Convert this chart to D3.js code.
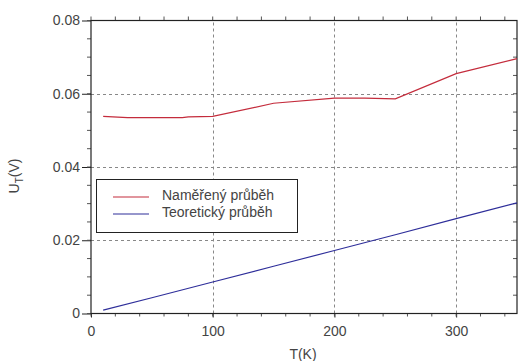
<!DOCTYPE html>
<html>
<head>
<meta charset="utf-8">
<script src="https://cdn.jsdelivr.net/npm/d3@7"></script>
<style>
  body { margin: 0; background: #fff; }
  text { font-family: "Liberation Sans", Arial, sans-serif; fill: #444; }
</style>
</head>
<body>
<svg id="chart" width="520" height="361"></svg>
<script>
// measured curve
const measT = [10, 30, 75, 80, 100, 150, 200, 225, 250, 300, 350];
const measU = [0.0538, 0.0535, 0.0535, 0.0537, 0.0538, 0.0574, 0.0588, 0.0588, 0.0586, 0.0655, 0.0696];
// theoretical curve
const theoT = [10, 50, 100, 150, 200, 250, 300, 350];
const theoU = [0.0009, 0.0043, 0.0086, 0.0129, 0.0172, 0.0215, 0.0259, 0.0302];

const xTicks = [0, 100, 200, 300];
const yTicks = [0, 0.02, 0.04, 0.06, 0.08];
const legendNames = ['Naměřený průběh', 'Teoretický průběh'];
const colors = ['#c42c3c', '#2e2e9a'];

const svg = d3.select('#chart');
const x = d3.scaleLinear().domain([0, 350]).range([91, 517]);
const y = d3.scaleLinear().domain([0, 0.08]).range([313.5, 20.5]);

const xMinor = d3.range(0, 351, 20);
const yMinor = d3.range(0, 0.0801, 0.005);

// grid
svg.append('g').selectAll('line')
  .data(xTicks.filter(d => d > 0))
  .join('line')
  .attr('x1', d => Math.round(x(d)) + 0.5).attr('x2', d => Math.round(x(d)) + 0.5)
  .attr('y1', y(0)).attr('y2', y(0.08))
  .attr('stroke', '#888').attr('stroke-dasharray', '3,3');
svg.append('g').selectAll('line')
  .data(yTicks.filter(d => d > 0 && d < 0.08))
  .join('line')
  .attr('x1', x(0)).attr('x2', x(350))
  .attr('y1', d => Math.round(y(d)) + 0.5).attr('y2', d => Math.round(y(d)) + 0.5)
  .attr('stroke', '#888').attr('stroke-dasharray', '3,3');

// axes
const yAxis = d3.axisLeft(y).tickValues(yTicks).tickFormat(d => d === 0 ? '0' : d3.format('.2f')(d)).tickSize(9).tickPadding(2);
const gy = svg.append('g').attr('transform', 'translate(' + x(0) + ',0)').call(yAxis);
const xAxis = d3.axisBottom(x).tickValues(xTicks).tickFormat(d3.format('d')).tickSize(4).tickPadding(9);
const gx = svg.append('g').attr('transform', 'translate(0,' + y(0) + ')').call(xAxis);
[gy, gx].forEach(g => {
  g.select('.domain').remove();
  g.selectAll('line').attr('stroke', '#222');
  g.selectAll('text').style('font-size', '14px').attr('fill', '#444');
});

// minor ticks
svg.append('g').selectAll('line').data(yMinor).join('line')
  .attr('x1', x(0) - 4).attr('x2', x(0))
  .attr('y1', d => y(d)).attr('y2', d => y(d)).attr('stroke', '#555');
svg.append('g').selectAll('line').data(yMinor).join('line')
  .attr('x1', x(350) - 4).attr('x2', x(350))
  .attr('y1', d => y(d)).attr('y2', d => y(d)).attr('stroke', '#555');
svg.append('g').selectAll('line').data(xMinor).join('line')
  .attr('x1', d => x(d)).attr('x2', d => x(d))
  .attr('y1', y(0)).attr('y2', y(0) + 3).attr('stroke', '#555');
svg.append('g').selectAll('line').data(xMinor).join('line')
  .attr('x1', d => x(d)).attr('x2', d => x(d))
  .attr('y1', y(0.08) - 4).attr('y2', y(0.08)).attr('stroke', '#555');

// frame
svg.append('rect')
  .attr('x', x(0)).attr('y', y(0.08))
  .attr('width', x(350) - x(0)).attr('height', y(0) - y(0.08))
  .attr('fill', 'none').attr('stroke', '#222').attr('stroke-width', 1.2);

// lines
const line = d3.line().x(d => x(d[0])).y(d => y(d[1]));
svg.append('path')
  .datum(measT.map((t, i) => [t, measU[i]]))
  .attr('d', line).attr('fill', 'none').attr('stroke', colors[0]).attr('stroke-width', 1.2);
svg.append('path')
  .datum(theoT.map((t, i) => [t, theoU[i]]))
  .attr('d', line).attr('fill', 'none').attr('stroke', colors[1]).attr('stroke-width', 1.2);

// legend
const legend = svg.append('g');
legend.append('rect')
  .attr('x', 96.5).attr('y', 179.5).attr('width', 201).attr('height', 53)
  .attr('fill', '#fff').attr('stroke', '#222');
legendNames.forEach((name, i) => {
  const ly = 197 + i * 17;
  legend.append('line')
    .attr('x1', 113).attr('x2', 149).attr('y1', ly).attr('y2', ly)
    .attr('stroke', colors[i]).attr('stroke-width', 1.2);
  legend.append('text')
    .attr('x', 162).attr('y', ly + 3)
    .style('font-size', '14px').text(name);
});

// axis titles
svg.append('text')
  .attr('x', 303).attr('y', 359)
  .attr('text-anchor', 'middle').style('font-size', '14px').text('T(K)');
const yl = svg.append('text')
  .attr('transform', 'translate(19,176) rotate(-90)')
  .attr('text-anchor', 'middle').style('font-size', '14px');
yl.append('tspan').text('U');
yl.append('tspan').attr('dy', 4).style('font-size', '10px').text('T');
yl.append('tspan').attr('dy', -4).text('(V)');
</script>
</body>
</html>
